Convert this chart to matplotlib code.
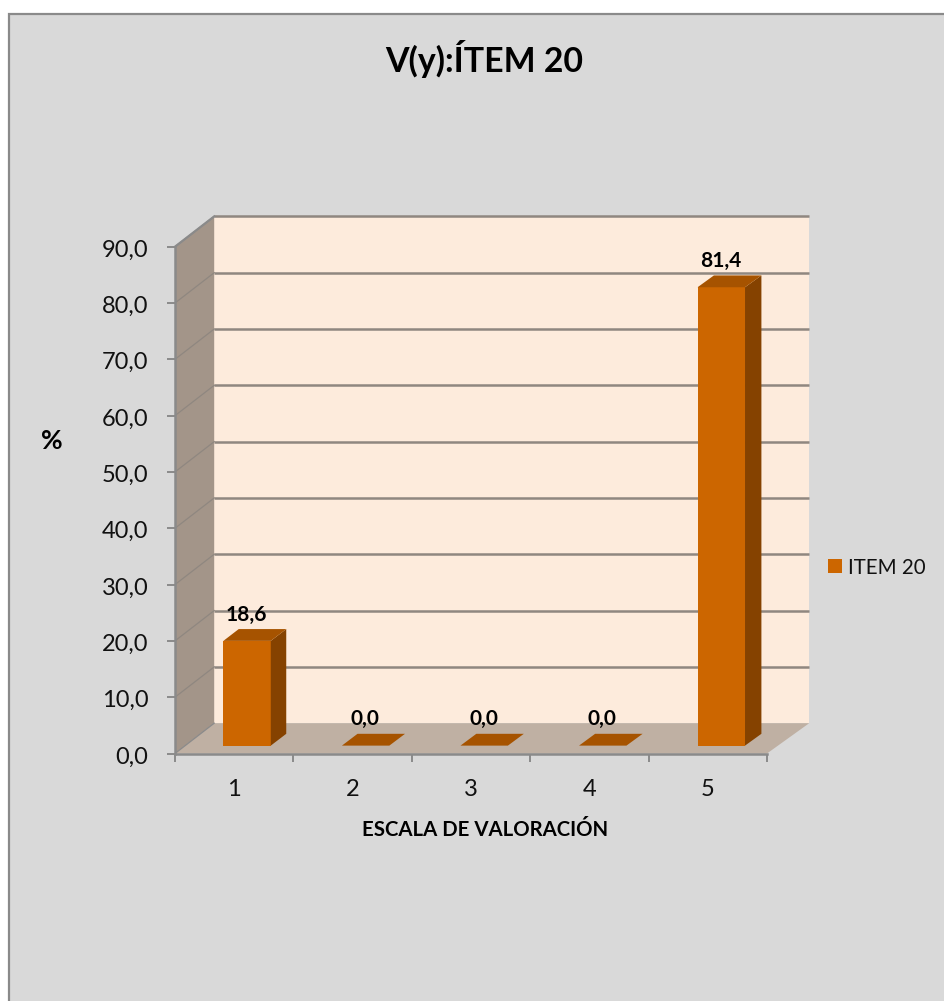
import matplotlib
matplotlib.use("Agg")
import matplotlib.pyplot as plt
from matplotlib.patches import Polygon, Rectangle, Patch
from matplotlib.transforms import ScaledTranslation

categories = [1, 2, 3, 4, 5]
values = [18.6, 0.0, 0.0, 0.0, 81.4]
value_labels = ["18,6", "0,0", "0,0", "0,0", "81,4"]
y_ticks = [0, 10, 20, 30, 40, 50, 60, 70, 80, 90]
series_name = "ITEM 20"
title = "V(y):ÍTEM 20"
x_title = "ESCALA DE VALORACIÓN"
y_title = "%"

W, H = 944, 1001
plt.rcParams["font.family"] = ["Lato", "DejaVu Sans"]

BG = "#D9D9D9"
FRAME = "#8A8A8A"
WALL = "#FDEBDC"
SIDE = "#A39589"
FLOOR = "#BFB0A3"
GRID = "#8F8780"
FRONT = "#CC6600"
TOP = "#A65300"
DARK = "#854200"

fig = plt.figure(figsize=(W / 100, H / 100), dpi=100, facecolor="white")
# The chart area runs off the right and bottom of the canvas
fig.patches.append(Rectangle((9 / W, -0.05), 1.05, 1.05 - 14 / H, transform=fig.transFigure,
                             facecolor=BG, edgecolor=FRAME, linewidth=1.6, zorder=-5))

# Front plane of the plot box, in pixels
left, right, bottom, top = 175, 767, 753.5, 246.7
ax = fig.add_axes([left / W, 1 - bottom / H, (right - left) / W, (bottom - top) / H])
ax.patch.set_alpha(0)
ax.set_xlim(0.5, 5.5)
ax.set_ylim(0, 90)

cat_px = (right - left) / 5
val_px = (bottom - top) / 90
depth_dy = 30.3 / val_px  # full box depth expressed in value units


def depth_dx(x):
    # Box depth expressed in category units, opening slightly to the right
    return (39.2 + (x - 0.5) / 5 * 3) / cat_px


def project(x, y, d):
    return (x + d * depth_dx(x), y + d * depth_dy)


def face(points, color, z, edge="none"):
    ax.add_patch(Polygon([project(*p) for p in points], closed=True, facecolor=color,
                         edgecolor=edge, linewidth=0.6, zorder=z, clip_on=False))


x0, x1, ymax = 0.5, 5.5, y_ticks[-1]
face([(x0, 0, 1), (x1, 0, 1), (x1, ymax, 1), (x0, ymax, 1)], WALL, 1)
face([(x0, 0, 0), (x0, 0, 1), (x0, ymax, 1), (x0, ymax, 0)], SIDE, 1)
face([(x0, 0, 0), (x1, 0, 0), (x1, 0, 1), (x0, 0, 1)], FLOOR, 1)

# Gridlines run along the side wall and then across the back wall
for t in y_ticks[1:]:
    a, b, c = project(x0, t, 0), project(x0, t, 1), project(x1, t, 1)
    ax.plot([a[0], b[0]], [a[1], b[1]], color=GRID, lw=0.9, zorder=2, clip_on=False)
    ax.plot([b[0], c[0]], [b[1], c[1]], color=GRID, lw=1.8, zorder=2, clip_on=False,
            solid_capstyle="butt")

# Bars stand on the floor, part of the way into the box
d0, d1 = 0.26, 0.65
half = 0.2
shift = 0.022
for i, (cat, val, lab) in enumerate(zip(categories, values, value_labels)):
    l, r = cat + shift - half, cat + shift + half
    z = 3 + i
    face([(l, 0, d0), (r, 0, d0), (r, val, d0), (l, val, d0)], FRONT, z)
    face([(r, 0, d0), (r, 0, d1), (r, val, d1), (r, val, d0)], DARK, z)
    face([(l, val, d0), (r, val, d0), (r, val, d1), (l, val, d1)], TOP, z)
    px, py = project(cat + shift, val, d0)
    _, back_y = project(cat + shift, val, d1)
    ax.annotate(lab, (px, back_y), xytext=(-0.5, 10.5), textcoords="offset points",
                ha="center", va="center", fontsize=15, fontweight="bold",
                color="black", zorder=20, annotation_clip=False)

ax.set_xticks([c - 0.5 for c in categories] + [categories[-1] + 0.5])
ax.set_xticklabels([""] * (len(categories) + 1))
ax.set_xticks(categories, minor=True)
ax.set_xticklabels([str(c) for c in categories], minor=True, fontsize=17, color="#111111")
ax.tick_params(axis="x", which="minor", length=0, pad=18)
ax.tick_params(axis="x", which="major", length=6, width=1.4, color=FRAME)
ax.set_yticks(y_ticks)
ax.set_yticklabels([f"{t:.1f}".replace(".", ",") for t in y_ticks], fontsize=17, color="#111111")
ax.tick_params(axis="y", length=6, width=1.4, color=FRAME, pad=13)
nudge = ScaledTranslation(0, -1.5 / 100, fig.dpi_scale_trans)
for lab in ax.get_yticklabels():
    lab.set_transform(lab.get_transform() + nudge)

for s in ("top", "right"):
    ax.spines[s].set_visible(False)
for s in ("left", "bottom"):
    ax.spines[s].set_color(FRAME)
    ax.spines[s].set_linewidth(1.8)
    ax.spines[s].set_zorder(10)

# Outer edge running from the top of the axis to the back wall
a, b, c = project(x0, ymax, 0), project(x0, ymax, 1), project(x1, ymax, 1)
ax.plot([a[0], b[0]], [a[1], b[1]], color=FRAME, lw=1.6, zorder=2, clip_on=False)
a, b = project(x0, 0, 0), project(x0, 0, 1)
ax.plot([a[0], b[0]], [a[1], b[1]], color=FRAME, lw=0.9, zorder=2, clip_on=False)

fig.text(484.5 / W, 1 - 58.5 / H, title, ha="center", va="center", fontsize=24.4, fontweight="bold", color="black")
fig.text(485 / W, 1 - 830 / H, x_title, ha="center", va="center", fontsize=14.7, fontweight="bold", color="black")
fig.text(52 / W, 1 - 441 / H, y_title, ha="center", va="center", fontsize=19, fontweight="bold", color="black")

ax.legend(handles=[Patch(facecolor=FRONT, edgecolor="none", label=series_name)],
          loc="center left", bbox_to_anchor=(828 / W, 1 - 567.5 / H),
          bbox_transform=fig.transFigure, frameon=False, fontsize=14.8,
          handlelength=0.68, handleheight=0.68, handletextpad=0.3,
          borderpad=0, borderaxespad=0, labelcolor="#111111")

fig.savefig("out.png", dpi=100, facecolor=fig.get_facecolor())
